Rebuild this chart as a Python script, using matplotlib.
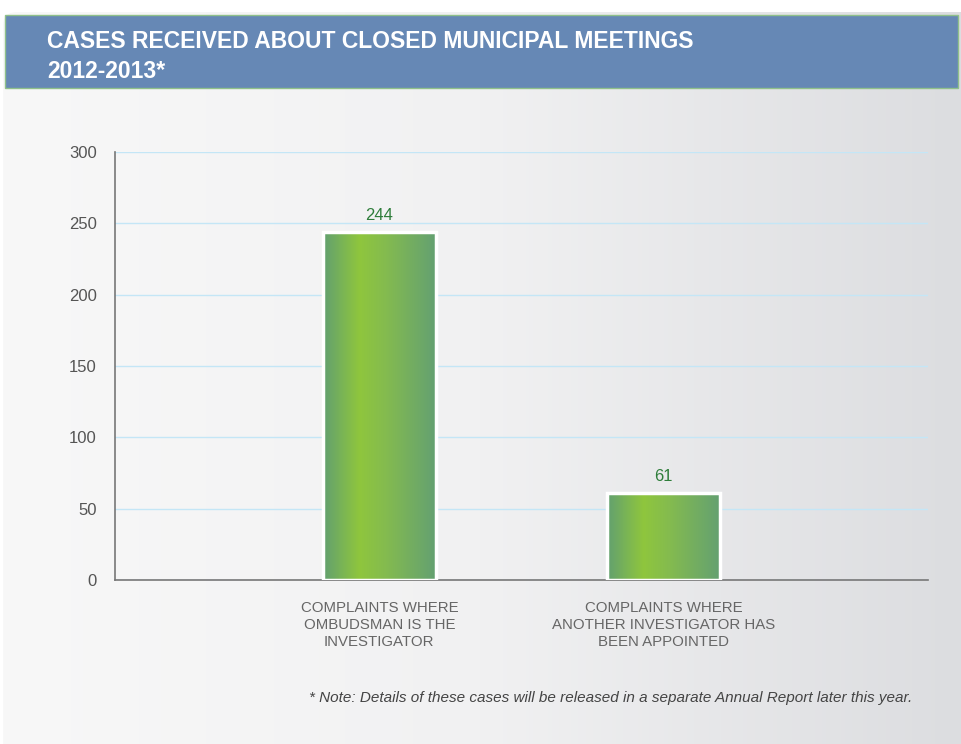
#!/usr/bin/env python3

import numpy as np
import matplotlib
matplotlib.use("Agg")
import matplotlib.pyplot as plt
from matplotlib.colors import LinearSegmentedColormap
from matplotlib.patches import Rectangle, FancyBboxPatch

# ---------------------------
# DATA
# ---------------------------

categories = [
    "COMPLAINTS WHERE\nOMBUDSMAN IS THE\nINVESTIGATOR",
    "COMPLAINTS WHERE\nANOTHER INVESTIGATOR HAS\nBEEN APPOINTED",
]
cases = [244, 61]
y_ticks = [0, 50, 100, 150, 200, 250, 300]

title_lines = ["CASES RECEIVED ABOUT CLOSED MUNICIPAL MEETINGS", "2012-2013*"]
note = "* Note: Details of these cases will be released in a separate Annual Report later this year."

plt.rcParams["font.family"] = ["Liberation Sans", "DejaVu Sans"]

W, H = 961, 744
fig = plt.figure(figsize=(W / 100, H / 100), dpi=100)
fig.patch.set_facecolor("white")

# ---------------------------
# BACKGROUND PANEL
# ---------------------------

bg = fig.add_axes([0, 0, 1, 1], zorder=0)
bg.set_xlim(0, W)
bg.set_ylim(H, 0)
bg.axis("off")
bg_cmap = LinearSegmentedColormap.from_list("bg", ["#f8f8f8", "#f1f1f2", "#dcdde0"])
grad = np.linspace(0, 1, 256).reshape(1, -1)
panel = FancyBboxPatch((3, 12), W + 20, H, boxstyle="round,pad=0,rounding_size=14",
                       facecolor="none", edgecolor="none")
bg.add_patch(panel)
im = bg.imshow(grad, cmap=bg_cmap, extent=[0, W, H, 0], aspect="auto")
im.set_clip_path(panel)

# title bar
bg.add_patch(Rectangle((5, 15), 953, 73, facecolor="#6688b5",
                       edgecolor="#8fc08a", linewidth=1))
bg.text(47, 41, title_lines[0], color="white",
        fontsize=16.5, fontweight="bold", va="center", ha="left")
bg.text(47, 71, title_lines[1], color="white",
        fontsize=16.5, fontweight="bold", va="center", ha="left")

bg.text(912, 698, note, color="#444444", fontsize=11, style="italic",
        ha="right", va="center")

# ---------------------------
# CHART
# ---------------------------

left, right, top, bottom = 115, 928, 152, 580
ax = fig.add_axes([left / W, 1 - bottom / H, (right - left) / W, (bottom - top) / H], zorder=1)
ax.patch.set_alpha(0)
ax.set_yticks(y_ticks)
ax.yaxis.grid(True, color="#c4e6f6", linewidth=1)
ax.set_axisbelow(True)
for s in ["top", "right"]:
    ax.spines[s].set_visible(False)
ax.spines["left"].set_color("#777777")
ax.spines["bottom"].set_color("#777777")
ax.spines["left"].set_linewidth(1.2)
ax.spines["bottom"].set_linewidth(1.2)
ax.tick_params(axis="y", length=0, pad=13, labelsize=12, labelcolor="#555555")
ax.tick_params(axis="x", length=0, pad=15, labelsize=10.8, labelcolor="#666666")

x = np.arange(len(categories))
bar_w = 0.40
bar_cmap = LinearSegmentedColormap.from_list(
    "bar", [(0, "#62a070"), (0.32, "#8fc63d"), (0.55, "#84bb4f"), (1, "#63a072")])

bars = ax.bar(x, cases, width=bar_w, facecolor="none", edgecolor="white",
              linewidth=2.5, zorder=3)
for b in bars:
    x0, w, h = b.get_x(), b.get_width(), b.get_height()
    img = ax.imshow(grad, cmap=bar_cmap, extent=[x0, x0 + w, 0, h],
                    aspect="auto", zorder=2)
    img.set_clip_path(b)
    ax.text(x0 + w / 2, h + 6, str(h), ha="center", va="bottom",
            color="#2e7d3a", fontsize=12)

ax.set_xlim(-0.93, 1.93)
ax.set_ylim(0, 300)
ax.set_xticks(x)
ax.set_xticklabels(categories, linespacing=1.28)

fig.savefig("out.png", dpi=100)
